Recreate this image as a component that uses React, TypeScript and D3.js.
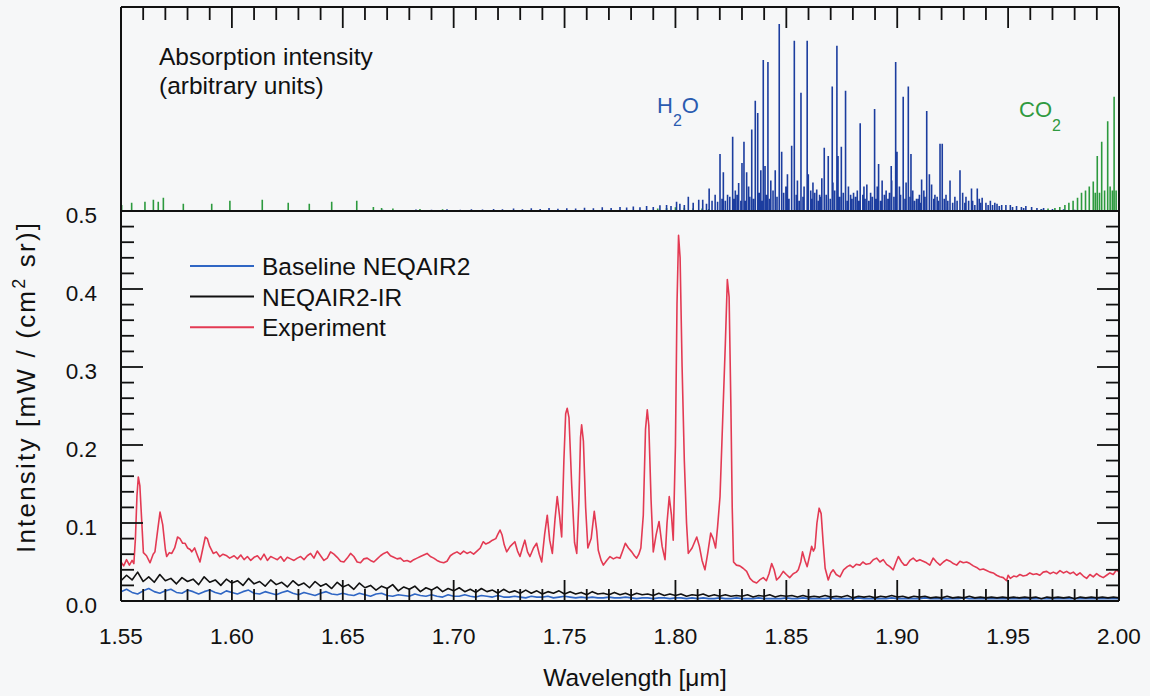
import React from "react";
import * as d3 from "d3";

// ---------- axis ticks ----------
const xTickValues = [1.55, 1.6, 1.65, 1.7, 1.75, 1.8, 1.85, 1.9, 1.95, 2.0];
const xTickLabels = ["1.55", "1.60", "1.65", "1.70", "1.75", "1.80", "1.85", "1.90", "1.95", "2.00"];
const yTickValues = [0, 0.1, 0.2, 0.3, 0.4, 0.5];
const yTickLabels = ["0.0", "0.1", "0.2", "0.3", "0.4", "0.5"];

// ---------- experiment (wavelength µm, intensity) ----------
const experiment: [number, number][] = [
  [1.5500,0.050],[1.5512,0.045],[1.5525,0.053],[1.5538,0.046],[1.5550,0.052],[1.5558,0.048],[1.5565,0.080],[1.5572,0.135],[1.5578,0.159],[1.5585,0.148],[1.5593,0.105],[1.5601,0.062],[1.5615,0.058],[1.5631,0.049],[1.5645,0.060],[1.5653,0.063],[1.5665,0.090],[1.5676,0.114],[1.5688,0.098],[1.5700,0.066],[1.5706,0.057],[1.5718,0.062],[1.5729,0.061],[1.5742,0.068],[1.5755,0.082],[1.5766,0.080],[1.5778,0.074],[1.5789,0.074],[1.5800,0.068],[1.5812,0.066],[1.5819,0.063],[1.5832,0.068],[1.5845,0.058],[1.5856,0.050],[1.5868,0.066],[1.5880,0.082],[1.5889,0.080],[1.5900,0.070],[1.5916,0.061],[1.5930,0.063],[1.5945,0.057],[1.5960,0.060],[1.5977,0.058],[1.5990,0.055],
  [1.6010,0.058],[1.6025,0.054],[1.6040,0.059],[1.6055,0.053],[1.6070,0.057],[1.6085,0.052],[1.6100,0.056],[1.6115,0.058],[1.6130,0.053],[1.6145,0.060],[1.6160,0.052],[1.6175,0.057],[1.6190,0.055],[1.6205,0.053],[1.6220,0.057],[1.6235,0.051],[1.6250,0.056],[1.6265,0.054],[1.6280,0.052],[1.6295,0.055],[1.6310,0.057],[1.6325,0.053],[1.6340,0.058],[1.6355,0.061],[1.6370,0.055],[1.6385,0.064],[1.6400,0.058],[1.6415,0.052],[1.6430,0.055],[1.6445,0.063],[1.6460,0.060],[1.6475,0.056],[1.6490,0.051],[1.6505,0.050],[1.6520,0.055],[1.6535,0.061],[1.6550,0.057],[1.6565,0.050],[1.6580,0.049],[1.6595,0.054],
  [1.6610,0.055],[1.6625,0.052],[1.6640,0.050],[1.6655,0.054],[1.6670,0.058],[1.6685,0.061],[1.6700,0.063],[1.6715,0.058],[1.6730,0.056],[1.6745,0.054],[1.6760,0.055],[1.6775,0.051],[1.6790,0.052],[1.6805,0.050],[1.6820,0.053],[1.6835,0.055],[1.6850,0.057],[1.6865,0.059],[1.6880,0.061],[1.6895,0.057],[1.6910,0.055],[1.6925,0.052],[1.6940,0.050],[1.6955,0.049],[1.6970,0.051],[1.6985,0.058],[1.7000,0.061],
  [1.7015,0.063],[1.7030,0.060],[1.7045,0.064],[1.7060,0.061],[1.7075,0.063],[1.7090,0.060],[1.7105,0.064],[1.7120,0.068],[1.7133,0.076],[1.7145,0.073],[1.7160,0.075],[1.7175,0.078],[1.7190,0.080],[1.7200,0.086],[1.7209,0.091],[1.7218,0.085],[1.7228,0.072],[1.7239,0.063],[1.7255,0.070],[1.7276,0.076],[1.7288,0.064],[1.7299,0.057],[1.7310,0.068],[1.7321,0.078],[1.7333,0.063],[1.7344,0.057],[1.7360,0.068],[1.7374,0.074],[1.7386,0.060],[1.7397,0.050],[1.7410,0.085],[1.7422,0.110],[1.7433,0.078],[1.7445,0.061],[1.7457,0.105],[1.7467,0.134],[1.7477,0.110],[1.7487,0.082],
  [1.7497,0.180],[1.7505,0.240],[1.7512,0.247],[1.7520,0.235],[1.7532,0.150],[1.7545,0.075],[1.7555,0.061],[1.7565,0.130],[1.7572,0.210],[1.7577,0.226],[1.7585,0.205],[1.7595,0.120],[1.7605,0.068],[1.7620,0.080],[1.7634,0.115],[1.7645,0.090],[1.7652,0.065],[1.7665,0.052],[1.7675,0.046],
  [1.7690,0.052],[1.7705,0.057],[1.7720,0.054],[1.7735,0.056],[1.7750,0.055],[1.7763,0.065],[1.7774,0.074],[1.7788,0.068],[1.7803,0.063],[1.7815,0.058],[1.7825,0.055],[1.7835,0.060],[1.7844,0.068],
  [1.7855,0.110],[1.7865,0.220],[1.7873,0.245],[1.7880,0.225],[1.7890,0.130],[1.7900,0.063],[1.7913,0.085],[1.7926,0.102],[1.7940,0.070],[1.7953,0.053],[1.7962,0.100],[1.7972,0.134],[1.7982,0.110],[1.7990,0.078],
  [1.8000,0.200],[1.8007,0.380],[1.8014,0.469],[1.8021,0.440],[1.8030,0.300],[1.8040,0.180],[1.8050,0.100],[1.8058,0.061],
  [1.8075,0.068],[1.8096,0.082],[1.8108,0.070],[1.8120,0.052],[1.8133,0.040],[1.8146,0.062],[1.8159,0.087],[1.8170,0.080],[1.8181,0.068],[1.8190,0.095],
  [1.8201,0.134],[1.8213,0.232],[1.8225,0.330],[1.8234,0.412],[1.8242,0.390],[1.8250,0.250],[1.8256,0.120],[1.8262,0.050],
  [1.8275,0.046],[1.8290,0.045],[1.8305,0.042],[1.8321,0.038],[1.8336,0.029],[1.8350,0.025],[1.8366,0.023],[1.8380,0.027],[1.8396,0.030],[1.8410,0.026],[1.8422,0.035],[1.8434,0.048],[1.8445,0.040],[1.8456,0.027],[1.8470,0.031],[1.8486,0.038],[1.8500,0.034],[1.8515,0.030],[1.8531,0.035],[1.8545,0.037],[1.8554,0.040],[1.8565,0.050],[1.8573,0.063],[1.8584,0.052],[1.8594,0.044],[1.8605,0.058],[1.8614,0.070],[1.8622,0.064],[1.8629,0.068],[1.8638,0.100],[1.8648,0.119],[1.8657,0.112],[1.8666,0.075],[1.8675,0.042],[1.8689,0.027],[1.8700,0.036],[1.8711,0.040],[1.8725,0.034],[1.8742,0.031],[1.8758,0.040],
  [1.8775,0.044],[1.8787,0.046],[1.8800,0.043],[1.8815,0.047],[1.8832,0.046],[1.8845,0.050],[1.8860,0.047],[1.8877,0.048],[1.8892,0.053],[1.8907,0.055],[1.8922,0.050],[1.8937,0.053],[1.8952,0.047],[1.8967,0.044],[1.8982,0.040],[1.8995,0.050],[1.9005,0.057],[1.9020,0.050],[1.9032,0.046],[1.9042,0.046],[1.9057,0.052],[1.9072,0.055],[1.9087,0.051],[1.9102,0.053],[1.9117,0.051],[1.9132,0.049],[1.9147,0.046],[1.9162,0.055],[1.9177,0.050],[1.9193,0.046],[1.9208,0.050],[1.9223,0.053],[1.9238,0.051],[1.9253,0.048],[1.9268,0.046],[1.9283,0.051],[1.9298,0.049],[1.9313,0.050],[1.9328,0.048],[1.9343,0.045],[1.9358,0.043],[1.9373,0.040],[1.9388,0.041],[1.9403,0.039],[1.9418,0.037],[1.9433,0.036],[1.9448,0.033],[1.9463,0.031],[1.9478,0.030],[1.9493,0.026],[1.9500,0.033],[1.9510,0.029],[1.9525,0.032],[1.9538,0.031],[1.9553,0.034],[1.9568,0.032],[1.9583,0.033],[1.9598,0.036],[1.9613,0.034],[1.9628,0.035],[1.9643,0.033],[1.9658,0.037],[1.9674,0.038],[1.9689,0.035],[1.9704,0.037],[1.9719,0.035],[1.9734,0.039],[1.9749,0.036],[1.9764,0.038],[1.9779,0.035],[1.9794,0.037],[1.9809,0.033],[1.9824,0.036],[1.9839,0.032],[1.9854,0.029],[1.9869,0.034],[1.9884,0.031],[1.9899,0.035],[1.9914,0.032],[1.9929,0.030],[1.9944,0.033],[1.9959,0.036],[1.9974,0.034],[1.9989,0.040],[2.0000,0.037],
];

// ---------- model spectra sampled on a 0.0025 µm grid from 1.55 µm ----------
const modelGridStart = 1.55;
const modelGridStep = 0.0025;
const neqairIR = [
  0.026,0.033,0.027,0.037,0.025,0.031,0.024,0.034,0.026,0.029,0.022,0.030,0.025,0.028,0.021,0.031,0.024,0.027,0.020,0.028,0.023,
  0.026,0.020,0.029,0.022,0.025,0.019,0.027,0.021,0.024,0.018,0.026,0.020,0.023,0.017,0.025,0.019,0.022,0.016,0.024,0.018,
  0.021,0.015,0.023,0.017,0.020,0.014,0.019,0.016,0.021,0.013,0.018,0.015,0.019,0.012,0.017,0.014,0.018,0.012,0.016,0.013,
  0.017,0.012,0.015,0.011,0.016,0.012,0.014,0.010,0.015,0.011,0.013,0.010,0.014,0.010,0.013,0.009,0.012,0.010,0.013,0.009,
  0.012,0.009,0.011,0.008,0.012,0.009,0.010,0.008,0.011,0.008,0.010,0.007,0.010,0.008,0.009,0.007,0.010,0.007,0.009,0.007,
  0.009,0.006,0.008,0.007,0.009,0.006,0.008,0.006,0.008,0.006,0.007,0.006,0.008,0.005,0.007,0.006,0.008,0.005,0.007,0.006,
  0.007,0.005,0.007,0.005,0.006,0.005,0.007,0.005,0.006,0.005,0.007,0.004,0.006,0.005,0.006,0.004,0.006,0.005,0.007,0.005,
  0.006,0.004,0.006,0.005,0.006,0.004,0.005,0.004,0.006,0.004,0.005,0.004,0.006,0.004,0.005,0.004,0.005,0.004,0.005,0.004,
  0.005,0.004,0.005,0.004,0.005,0.003,0.005,0.004,0.005,0.004,0.005,0.003,0.005,0.004,0.005,0.004,0.005,0.004,0.005,0.004,
];
const baselineNeqair = [
  0.012,0.015,0.011,0.009,0.013,0.016,0.012,0.010,0.013,0.015,0.011,0.010,0.014,0.012,0.009,0.012,0.014,0.011,0.009,0.013,0.011,
  0.009,0.012,0.014,0.010,0.009,0.012,0.010,0.008,0.011,0.013,0.010,0.008,0.011,0.009,0.007,0.010,0.012,0.009,0.008,0.010,
  0.008,0.007,0.010,0.008,0.006,0.009,0.010,0.007,0.006,0.008,0.007,0.006,0.009,0.007,0.006,0.008,0.006,0.005,0.008,0.006,
  0.006,0.008,0.006,0.005,0.007,0.006,0.005,0.007,0.005,0.005,0.006,0.005,0.004,0.006,0.005,0.005,0.006,0.004,0.005,0.006,
  0.005,0.004,0.005,0.004,0.005,0.004,0.004,0.005,0.004,0.004,0.005,0.004,0.003,0.004,0.004,0.003,0.004,0.004,0.003,0.004,
  0.004,0.003,0.004,0.003,0.004,0.003,0.003,0.004,0.003,0.003,0.004,0.003,0.003,0.003,0.004,0.003,0.003,0.003,0.003,0.004,
  0.003,0.003,0.004,0.003,0.003,0.003,0.003,0.004,0.003,0.003,0.003,0.003,0.004,0.003,0.003,0.003,0.003,0.003,0.004,0.003,
  0.003,0.003,0.003,0.003,0.004,0.003,0.003,0.003,0.003,0.003,0.003,0.004,0.003,0.003,0.003,0.003,0.003,0.003,0.003,0.003,
  0.003,0.003,0.003,0.003,0.003,0.003,0.003,0.003,0.003,0.003,0.003,0.003,0.003,0.003,0.003,0.003,0.003,0.003,0.003,0.003,
];

// ---------- absorption line strengths (wavelength, arbitrary units) ----------
const h2oLines: [number, number][] = [
  [1.560,0.003],[1.575,0.004],[1.590,0.003],[1.605,0.004],[1.620,0.003],[1.635,0.005],[1.650,0.004],[1.660,0.004],[1.668,0.006],[1.675,0.005],[1.683,0.007],[1.690,0.006],[1.697,0.009],
  [1.703,0.006],[1.708,0.008],[1.713,0.007],[1.718,0.010],[1.722,0.008],[1.727,0.012],[1.731,0.009],[1.735,0.013],[1.739,0.010],[1.743,0.015],[1.747,0.011],[1.751,0.014],[1.755,0.012],[1.759,0.016],[1.763,0.013],[1.767,0.018],[1.771,0.015],[1.775,0.020],[1.778,0.017],[1.781,0.022],[1.784,0.018],[1.787,0.025],[1.790,0.020],[1.793,0.028],[1.796,0.030],[1.798,0.025],
  [1.8005,0.045],[1.802,0.035],[1.804,0.030],[1.8058,0.070],[1.808,0.040],[1.8105,0.055],[1.8123,0.055],[1.814,0.035],[1.8152,0.110],[1.8165,0.050],[1.8179,0.080],[1.819,0.045],[1.8201,0.280],[1.8210,0.060],[1.8216,0.190],[1.8225,0.050],[1.8235,0.080],[1.8245,0.070],[1.8258,0.364],[1.8265,0.060],[1.827,0.100],[1.8278,0.080],[1.8285,0.137],[1.8295,0.050],[1.8300,0.235],[1.8309,0.340],[1.8315,0.050],[1.8321,0.190],[1.833,0.120],[1.8335,0.070],[1.8344,0.400],[1.8352,0.060],[1.8360,0.540],[1.8371,0.480],[1.8378,0.090],[1.8385,0.200],[1.8390,0.050],[1.8396,0.740],[1.8404,0.220],[1.8410,0.080],[1.8417,0.730],[1.8425,0.060],[1.843,0.150],[1.8440,0.100],[1.845,0.200],[1.8458,0.070],
  [1.8468,0.917],[1.8479,0.290],[1.8488,0.090],[1.8498,0.120],[1.8505,0.180],[1.8512,0.060],[1.8524,0.320],[1.8536,0.835],[1.8545,0.080],[1.855,0.150],[1.8558,0.050],[1.8566,0.580],[1.8575,0.070],[1.858,0.120],[1.8594,0.835],[1.8599,0.180],[1.861,0.100],[1.8615,0.060],[1.862,0.140],[1.8628,0.090],[1.8637,0.105],[1.8645,0.050],[1.865,0.080],[1.8655,0.070],[1.866,0.160],[1.8671,0.310],[1.8680,0.080],[1.8689,0.270],[1.8698,0.060],[1.8707,0.610],[1.871,0.140],[1.8718,0.100],[1.8728,0.810],[1.8733,0.270],[1.8740,0.070],[1.8748,0.315],[1.8757,0.090],[1.8767,0.590],[1.8775,0.050],[1.878,0.120],[1.879,0.080],[1.8795,0.060],
  [1.8803,0.090],[1.8812,0.070],[1.882,0.100],[1.8826,0.050],[1.8833,0.430],[1.8845,0.080],[1.885,0.120],[1.8855,0.060],[1.8863,0.130],[1.8872,0.050],[1.888,0.090],[1.8888,0.070],[1.8898,0.500],[1.8905,0.060],[1.891,0.120],[1.8916,0.230],[1.8925,0.050],[1.8932,0.150],[1.8942,0.080],[1.895,0.100],[1.8958,0.060],[1.8965,0.090],[1.8973,0.220],[1.8975,0.150],[1.8985,0.070],[1.8993,0.730],[1.8999,0.290],[1.901,0.120],[1.9015,0.080],[1.9027,0.560],[1.9035,0.060],[1.904,0.140],[1.9050,0.610],[1.9058,0.070],[1.9062,0.280],[1.907,0.100],[1.9078,0.050],[1.9087,0.060],[1.9095,0.060],[1.910,0.080],[1.9105,0.040],[1.9110,0.155],[1.912,0.100],[1.9125,0.070],[1.9133,0.490],[1.9145,0.180],[1.9155,0.130],[1.9165,0.060],[1.917,0.080],[1.918,0.070],[1.9185,0.050],
  [1.9193,0.330],[1.9203,0.330],[1.9212,0.060],[1.922,0.080],[1.9228,0.050],[1.9238,0.150],[1.9250,0.040],[1.926,0.070],[1.9270,0.050],[1.9283,0.200],[1.9295,0.090],[1.9305,0.040],[1.931,0.070],[1.9322,0.050],[1.9335,0.110],[1.934,0.050],[1.9350,0.030],[1.9361,0.110],[1.937,0.060],[1.9375,0.040],[1.9383,0.065],[1.940,0.040],[1.9410,0.030],[1.942,0.050],[1.9430,0.030],[1.9440,0.040],[1.945,0.035],[1.9460,0.025],[1.9471,0.030],[1.949,0.030],[1.951,0.030],[1.9520,0.020],[1.9538,0.025],[1.956,0.020],[1.9570,0.015],[1.958,0.025],[1.9606,0.020],[1.963,0.015],[1.9650,0.010],[1.966,0.015],[1.970,0.010],[1.9750,0.008],[1.9800,0.006],
];
const co2Lines: [number, number][] = [
  [1.5503,0.030],[1.5548,0.040],[1.5608,0.045],[1.5646,0.055],[1.5668,0.045],[1.5691,0.065],[1.5781,0.035],[1.5909,0.035],[1.5991,0.050],[1.6137,0.055],[1.6254,0.040],[1.6349,0.035],[1.6450,0.045],[1.6563,0.050],[1.6638,0.020],[1.6675,0.015],[1.6726,0.012],[1.6848,0.010],[1.6950,0.008],
  [1.792,0.012],[1.796,0.015],[1.800,0.018],[1.804,0.016],[1.808,0.014],[1.812,0.012],[1.815,0.010],
  [1.965,0.010],[1.968,0.012],[1.9711,0.015],[1.9733,0.020],[1.9756,0.030],[1.9774,0.040],[1.9793,0.050],[1.9813,0.065],[1.9831,0.090],[1.9849,0.100],[1.9866,0.120],[1.9884,0.145],[1.9893,0.090],[1.9902,0.270],[1.9912,0.090],[1.9922,0.340],[1.9935,0.100],[1.9949,0.440],[1.9960,0.120],[1.9970,0.100],[1.9978,0.560],[1.9987,0.100],
];

const legendItems = [
  { label: "Baseline NEQAIR2", color: "#2f66c4" },
  { label: "NEQAIR2-IR", color: "#111111" },
  { label: "Experiment", color: "#e33a53" },
];

const W = 1150;
const H = 696;
const FONT = "'Liberation Sans', Arial, Helvetica, sans-serif";

export default function App() {
  const x = d3.scaleLinear().domain([1.55, 2.0]).range([121, 1119]);
  const yLow = d3.scaleLinear().domain([0, 0.5]).range([601, 211]);
  const yTop = d3.scaleLinear().domain([0, 1]).range([211, 7]);

  const lineGen = d3
    .line<[number, number]>()
    .x((d) => x(d[0]))
    .y((d) => yLow(d[1]));

  const modelPts = (vals: number[]): [number, number][] =>
    vals.map((v, i) => [modelGridStart + i * modelGridStep, v]);

  const sticks = (lines: [number, number][]) =>
    lines.map(([w, h]) => `M${x(w).toFixed(2)},${yTop(0)}V${yTop(h).toFixed(2)}`).join("");

  const minorX = d3.range(0, 46).map((i) => 1.55 + i * 0.01);
  const minorY = d3.range(0, 26).map((i) => i * 0.02);
  const isMajorX = (i: number) => i % 5 === 0;
  const isMajorY = (i: number) => i % 5 === 0;

  const left = x(1.55);
  const right = x(2.0);
  const top = yTop(1);
  const mid = yLow(0.5);
  const bottom = yLow(0);

  return (
    <svg
      width={W}
      height={H}
      style={{ position: "absolute", left: 0, top: 0, background: "#f6f7f8" }}
      fontFamily={FONT}
    >
      <rect x={0} y={0} width={W} height={H} fill="#f6f7f8" />

      {/* absorption sticks */}
      <path d={sticks(co2Lines)} stroke="#2c9a3e" strokeWidth={1.6} fill="none" />
      <path d={sticks(h2oLines)} stroke="#1c3d9f" strokeWidth={1.6} fill="none" />

      {/* spectra */}
      <path d={lineGen(modelPts(baselineNeqair)) || ""} stroke="#2f66c4" strokeWidth={1.6} fill="none" strokeLinejoin="round" />
      <path d={lineGen(modelPts(neqairIR)) || ""} stroke="#111111" strokeWidth={1.6} fill="none" strokeLinejoin="round" />
      <path d={lineGen(experiment) || ""} stroke="#e33a53" strokeWidth={1.6} fill="none" strokeLinejoin="round" />

      {/* frames */}
      <g stroke="#111" strokeWidth={2} fill="none">
        <line x1={left} y1={top} x2={right} y2={top} />
        <line x1={left} y1={top} x2={left} y2={bottom} />
        <line x1={right} y1={top} x2={right} y2={bottom} />
        <line x1={left} y1={mid} x2={right} y2={mid} />
        <line x1={left} y1={bottom} x2={right} y2={bottom} />
      </g>

      {/* ticks */}
      <g stroke="#111" strokeWidth={1.8}>
        {minorX.map((v, i) => (
          <line key={"tx" + i} x1={x(v)} x2={x(v)} y1={top} y2={top + (isMajorX(i) ? 21 : 13)} />
        ))}
        {minorX.map((v, i) => (
          <line key={"bx" + i} x1={x(v)} x2={x(v)} y1={bottom} y2={bottom - (isMajorX(i) ? 21 : 12)} />
        ))}
        {minorY.map((v, i) => (
          <line key={"ly" + i} x1={left} x2={left + (isMajorY(i) ? 22 : 13)} y1={yLow(v)} y2={yLow(v)} />
        ))}
        {minorY.map((v, i) => (
          <line key={"ry" + i} x1={right} x2={right - (isMajorY(i) ? 22 : 13)} y1={yLow(v)} y2={yLow(v)} />
        ))}
      </g>

      {/* tick labels */}
      <g fontSize={22.5} fill="#111">
        {xTickValues.map((v, i) => (
          <text key={"xl" + i} x={x(v)} y={644} textAnchor="middle">
            {xTickLabels[i]}
          </text>
        ))}
        {yTickValues.map((v, i) => (
          <text key={"yl" + i} x={97} y={yLow(v) + 12} textAnchor="end">
            {yTickLabels[i]}
          </text>
        ))}
      </g>

      {/* axis titles */}
      <text x={635} y={686} textAnchor="middle" fontSize={24.5} fill="#111">
        Wavelength [μm]
      </text>
      <text
        transform="translate(35,388) rotate(-90)"
        textAnchor="middle"
        fontSize={26}
        fill="#111"
        textLength={330}
        lengthAdjust="spacing"
      >
        Intensity [mW / (cm<tspan dy={-10} fontSize={18}>2</tspan>
        <tspan dy={10}> sr)]</tspan>
      </text>

      {/* top panel labels */}
      <text x={159} y={65} fontSize={24.5} fill="#111">Absorption intensity</text>
      <text x={159} y={94} fontSize={24.5} fill="#111">(arbitrary units)</text>
      <text x={657} y={113} fontSize={22} fill="#2a5bb0">
        H<tspan dy={13} fontSize={16}>2</tspan>
        <tspan dy={-13}>O</tspan>
      </text>
      <text x={1019} y={117} fontSize={22} fill="#2f9a40">
        CO<tspan dy={14} fontSize={16}>2</tspan>
      </text>

      {/* legend */}
      {legendItems.map((item, i) => (
        <g key={item.label}>
          <line x1={190} x2={254} y1={266 + i * 30.6} y2={266 + i * 30.6} stroke={item.color} strokeWidth={2} />
          <text x={262} y={275 + i * 30.6} fontSize={24.5} fill="#111">
            {item.label}
          </text>
        </g>
      ))}
    </svg>
  );
}
